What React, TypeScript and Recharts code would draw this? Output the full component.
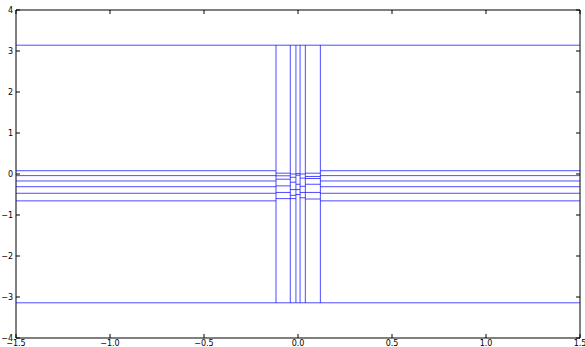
import React from 'react';
import { LineChart, Line, XAxis, YAxis, ReferenceArea } from 'recharts';

const X_TICKS = [-1.5, -1.0, -0.5, 0.0, 0.5, 1.0, 1.5];
const Y_TICKS = [-4, -3, -2, -1, 0, 1, 2, 3, 4];

const PI_LINES = [3.1416, -3.1416];
const VERTICAL_XS = [-0.117, -0.041, -0.011, 0.011, 0.039, 0.119];
const OUTER_YS = [0.08, -0.04, -0.17, -0.31, -0.47, -0.655];

// inner column segments: [x0, x1, y values]
const COL_A_YS = [0.02, -0.044, -0.127, -0.29, -0.45, -0.6];
const COL_B_YS = [0.0, -0.08, -0.2, -0.38, -0.52, -0.6];
const COL_C_YS = [0.01, -0.03, -0.25, -0.38, -0.5];
const COL_D_YS = [0.0, -0.1, -0.3, -0.45, -0.58];
const COL_E_YS = [0.02, -0.06, -0.11, -0.25, -0.45, -0.61];

type Pt = { x: number; y: number };
const segs: Pt[][] = [];
PI_LINES.forEach((y) => segs.push([{ x: -1.5, y }, { x: 1.5, y }]));
VERTICAL_XS.forEach((x) => segs.push([{ x, y: -3.1416 }, { x, y: 3.1416 }]));
OUTER_YS.forEach((y) => {
  segs.push([{ x: -1.5, y }, { x: VERTICAL_XS[0], y }]);
  segs.push([{ x: VERTICAL_XS[5], y }, { x: 1.5, y }]);
});
const cols: [number, number, number[]][] = [
  [VERTICAL_XS[0], VERTICAL_XS[1], COL_A_YS],
  [VERTICAL_XS[1], VERTICAL_XS[2], COL_B_YS],
  [VERTICAL_XS[2], VERTICAL_XS[3], COL_C_YS],
  [VERTICAL_XS[3], VERTICAL_XS[4], COL_D_YS],
  [VERTICAL_XS[4], VERTICAL_XS[5], COL_E_YS],
];
cols.forEach(([x0, x1, ys]) => ys.forEach((y) => segs.push([{ x: x0, y }, { x: x1, y }])));

const fmt = (v: number, d: number) => v.toFixed(d).replace('-', '\u2212');
const FONT = 'DejaVu Sans';

const XTick = (props: any) => {
  const { x, y, payload } = props;
  return (
    <g>
      <line x1={x} x2={x} y1={338} y2={334} stroke="#000" />
      <line x1={x} x2={x} y1={10} y2={14} stroke="#000" />
      <text x={x} y={y + 6} textAnchor="middle" fontSize={8} fontFamily={FONT} fill="#000">
        {fmt(payload.value, 1)}
      </text>
    </g>
  );
};

const YTick = (props: any) => {
  const { x, y, payload } = props;
  return (
    <g>
      <line x1={16} x2={20} y1={y} y2={y} stroke="#000" />
      <line x1={576} x2={580} y1={y} y2={y} stroke="#000" />
      <text x={x} y={y + 3} textAnchor="end" fontSize={8} fontFamily={FONT} fill="#000">
        {fmt(payload.value, 0)}
      </text>
    </g>
  );
};

export default function App() {
  return (
    <div style={{ position: 'absolute', left: 0, top: 0, background: '#fff' }}>
      <LineChart width={585} height={347} margin={{ top: 10, right: 5, left: 0, bottom: 0 }}>
        <XAxis
          dataKey="x"
          type="number"
          domain={[-1.5, 1.5]}
          ticks={X_TICKS}
          allowDataOverflow
          height={9}
          tickSize={1}
          tickMargin={1}
          tickLine={false}
          axisLine={false}
          tick={<XTick />}
          interval={0}
        />
        <YAxis
          type="number"
          domain={[-4, 4]}
          ticks={Y_TICKS}
          allowDataOverflow
          width={16}
          tickSize={2}
          tickMargin={1}
          tickLine={false}
          axisLine={false}
          tick={<YTick />}
          interval={0}
        />
        <ReferenceArea x1={-1.5} x2={1.5} y1={-4} y2={4} fill="none" stroke="#000" strokeWidth={1} ifOverflow="visible" />
        {segs.map((pts, i) => (
          <Line
            key={i}
            data={pts}
            dataKey="y"
            stroke="#0000ff"
            strokeOpacity={0.7}
            strokeWidth={1}
            dot={false}
            activeDot={false}
            isAnimationActive={false}
            type="linear"
          />
        ))}
      </LineChart>
    </div>
  );
}
